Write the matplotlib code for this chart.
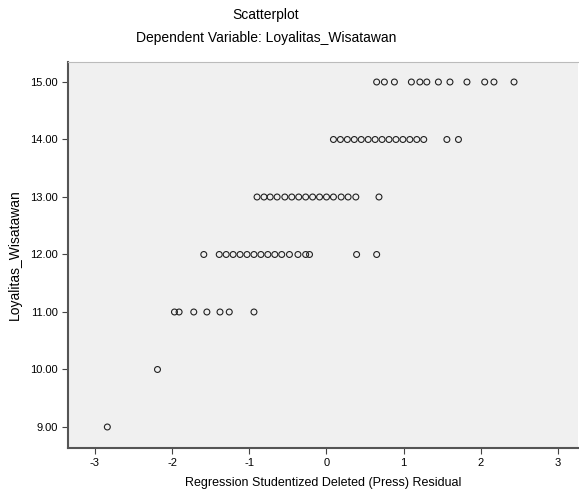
import matplotlib
matplotlib.use("Agg")
import matplotlib.pyplot as plt

plt.rcParams['font.family'] = ['Liberation Sans', 'DejaVu Sans']

# Loyalitas levels and the residual values
row_9 = [-2.84]
row_10 = [-2.19]
row_11 = [-1.97, -1.91, -1.72, -1.55, -1.38, -1.26, -0.94]
row_12 = [-1.59, -1.39, -1.30, -1.21, -1.12, -1.03, -0.94, -0.85, -0.76,
          -0.67, -0.58, -0.48, -0.37, -0.27, -0.22, 0.39, 0.65]
row_13 = [-0.90, -0.81, -0.73, -0.64, -0.54, -0.45, -0.36, -0.27, -0.18,
          -0.09, 0.00, 0.09, 0.19, 0.28, 0.38, 0.68]
row_14 = [0.09, 0.18, 0.27, 0.36, 0.45, 0.54, 0.63, 0.72, 0.81, 0.90,
          0.99, 1.08, 1.17, 1.26, 1.56, 1.71]
row_15 = [0.65, 0.75, 0.88, 1.10, 1.21, 1.30, 1.45, 1.60, 1.82, 2.05,
          2.17, 2.43]

levels = [9, 10, 11, 12, 13, 14, 15]
rows = [row_9, row_10, row_11, row_12, row_13, row_14, row_15]

x_ticks = [-3, -2, -1, 0, 1, 2, 3]
y_ticks = [9, 10, 11, 12, 13, 14, 15]
y_tick_labels = ['9.00', '10.00', '11.00', '12.00', '13.00', '14.00', '15.00']

fig = plt.figure(figsize=(5.79, 4.95), dpi=100)
ax = fig.add_axes([0.1174, 0.095, 0.881, 0.78])
ax.set_facecolor('#f0f0f0')

for lvl, xs in zip(levels, rows):
    ax.scatter(xs, [lvl] * len(xs), s=18, facecolors='none',
               edgecolors='#222222', linewidths=0.8)

ax.set_xlim(-3.35, 3.26)
ax.set_ylim(8.635, 15.35)
ax.set_xticks(x_ticks)
ax.set_xticklabels([str(t) for t in x_ticks])
ax.set_yticks(y_ticks)
ax.set_yticklabels(y_tick_labels)
ax.tick_params(axis='both', labelsize=8, length=4, width=0.8, color='#444444')

for side in ['left', 'bottom']:
    ax.spines[side].set_color('#555555')
    ax.spines[side].set_linewidth(1.5)
ax.spines['top'].set_color('#bbbbbb')
ax.spines['top'].set_linewidth(0.8)
ax.spines['right'].set_visible(False)

ax.set_xlabel('Regression Studentized Deleted (Press) Residual', fontsize=9, labelpad=6)
ax.set_ylabel('Loyalitas_Wisatawan', fontsize=10, labelpad=6)

fig.text(0.459, 0.97, 'Scatterplot', ha='center', va='center', fontsize=10)
fig.text(0.46, 0.923, 'Dependent Variable: Loyalitas_Wisatawan', ha='center',
         va='center', fontsize=10)

fig.savefig('out.png', dpi=100)
